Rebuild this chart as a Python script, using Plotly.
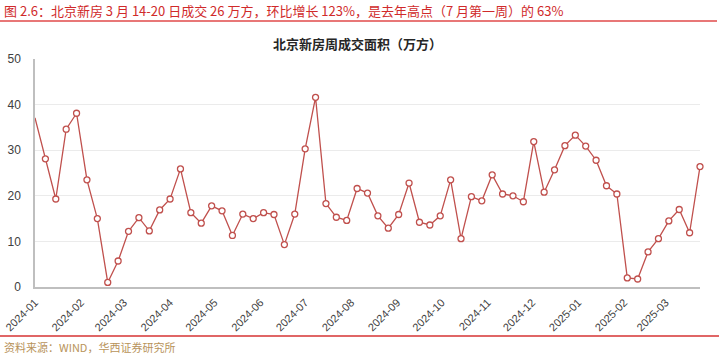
import pandas as pd
import plotly.graph_objects as go

# Weekly dates (week ending), last week = 2025-03-14 ~ 03-20
start_date = "2023-12-28"
n_weeks = 65
dates = pd.date_range(start=start_date, periods=n_weeks, freq="7D")

# 北京新房周成交面积（万方）
values = [
    37.1, 28.1, 19.3, 34.6, 38.1, 23.5, 15.0, 1.0, 5.7, 12.2,
    15.2, 12.3, 16.9, 19.3, 25.9, 16.3, 14.0, 17.8, 16.7, 11.3,
    16.0, 15.0, 16.3, 15.9, 9.3, 16.0, 30.3, 41.6, 18.3, 15.3,
    14.6, 21.6, 20.6, 15.6, 12.9, 15.9, 22.8, 14.2, 13.6, 15.6,
    23.5, 10.6, 19.8, 18.9, 24.6, 20.4, 20.0, 18.7, 31.9, 20.8,
    25.7, 31.0, 33.3, 30.9, 27.8, 22.2, 20.4, 2.0, 1.75, 7.7,
    10.6, 14.5, 17.0, 11.9, 26.4,
]

month_ticks = pd.date_range("2024-01-01", "2025-03-01", freq="MS")
month_labels = [d.strftime("%Y-%m") for d in month_ticks]

fig_title = "图 2.6：北京新房 3 月 14-20 日成交 26 万方，环比增长 123%，是去年高点（7 月第一周）的 63%"
chart_title = "北京新房周成交面积（万方）"
source_text = "资料来源：WIND，华西证券研究所"

line_color = "#c0504d"
font_family = "Noto Sans CJK SC, Noto Sans, Liberation Sans, sans-serif"

# first point sits on the axis edge without a visible marker
marker_sizes = [0] + [6] * (len(values) - 1)

fig = go.Figure()
fig.add_trace(go.Scatter(
    x=dates, y=values, mode="lines+markers",
    line=dict(color=line_color, width=1.3),
    marker=dict(size=marker_sizes, color="#ffffff", opacity=1,
                line=dict(color=line_color, width=1.3)),
    cliponaxis=False,
    hoverinfo="x+y",
))

# plot area geometry in px
L, R, T, B = 35, 700, 59, 287
W, H = 719, 355

def px_x(p):
    return (p - L) / (R - L)

def px_y(p):
    return (B - p) / (B - T)

fig.update_layout(
    width=W, height=H,
    margin=dict(l=L, r=W - R, t=T, b=H - B),
    paper_bgcolor="white", plot_bgcolor="white",
    showlegend=False,
    font=dict(family=font_family, color="#404040"),
    xaxis=dict(
        range=[dates[0], dates[-1]], automargin=False,
        tickmode="array", tickvals=month_ticks, ticktext=month_labels,
        tickangle=-45, tickfont=dict(size=11, color="#404040", family="Liberation Sans, Arial, sans-serif"),
        showgrid=False, showline=True, linecolor="#bfbfbf", linewidth=1.5,
        ticks="", zeroline=False, ticklabelstandoff=3, ticklabelshift=-6,
    ),
    yaxis=dict(
        range=[0, 50], tickvals=[0, 10, 20, 30, 40, 50], automargin=False,
        tickfont=dict(size=12, color="#404040", family="Liberation Sans, Arial, sans-serif"),
        showgrid=True, gridcolor="#ebebeb", gridwidth=1,
        showline=True, linecolor="#bfbfbf", linewidth=1.5,
        zeroline=False, ticks="", ticklabelstandoff=10,
    ),
    shapes=[
        dict(type="line", xref="paper", yref="paper",
             x0=px_x(0), x1=px_x(717), y0=px_y(21), y1=px_y(21),
             line=dict(color="#e04a4a", width=1.5)),
        dict(type="line", xref="paper", yref="paper",
             x0=px_x(0), x1=px_x(719), y0=px_y(336), y1=px_y(336),
             line=dict(color="#e06666", width=2)),
    ],
    annotations=[
        dict(text=fig_title, xref="paper", yref="paper",
             x=px_x(2), y=px_y(10), xanchor="left", yanchor="middle",
             showarrow=False, font=dict(size=13, color="#d02a2a", family=font_family)),
        dict(text="<b>" + chart_title + "</b>", xref="paper", yref="paper",
             x=px_x(357), y=px_y(44), xanchor="center", yanchor="middle",
             showarrow=False, font=dict(size=13, color="#262626", family=font_family)),
        dict(text=source_text, xref="paper", yref="paper",
             x=px_x(2), y=px_y(347), xanchor="left", yanchor="middle",
             showarrow=False, font=dict(size=11, color="#b8935a", family=font_family)),
    ],
)

fig.write_html("out.html")
